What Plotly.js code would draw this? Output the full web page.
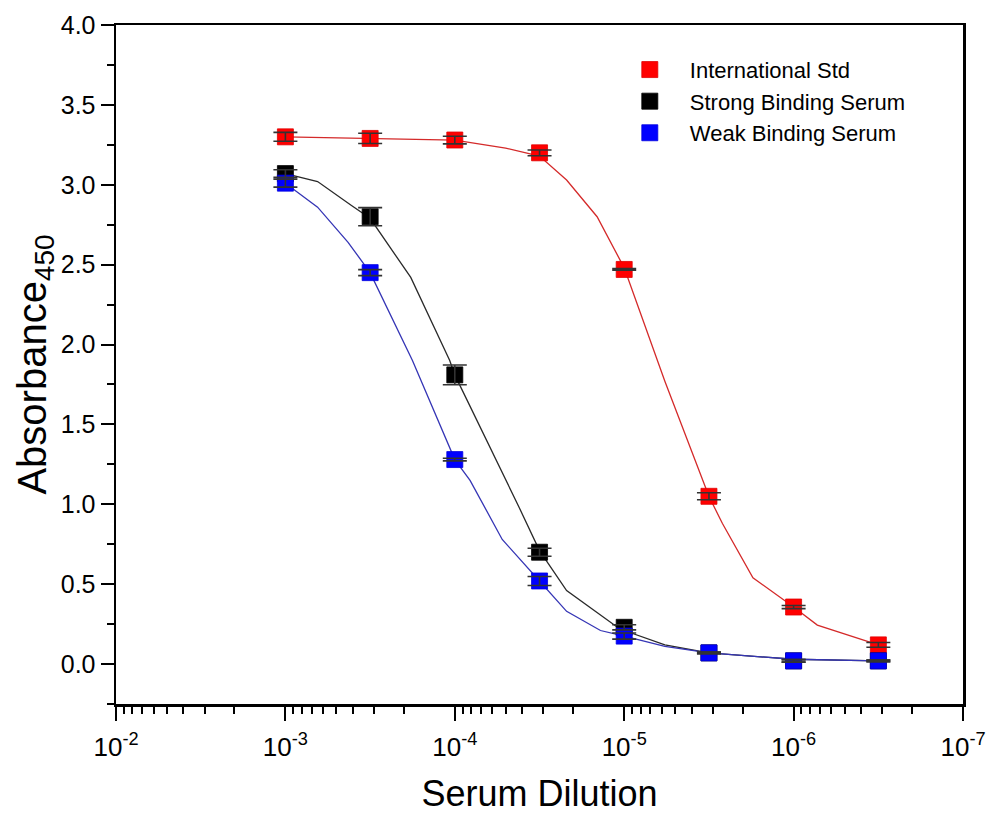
<!DOCTYPE html>
<html>
<head>
<meta charset="utf-8">
<script src="https://cdn.plot.ly/plotly-3.0.1.min.js"></script>
<style>html,body{margin:0;padding:0;background:#fff;}#chart{width:987px;height:814px;}</style>
</head>
<body>
<div id="chart"></div>
<script>
// Serum dilutions (x values)
const dilution = [1e-3, 3.16e-4, 1e-4, 3.16e-5, 1e-5, 3.16e-6, 1e-6, 3.16e-7];

// Measured absorbance and error (half-range)
const stdY      = [3.30, 3.29, 3.28, 3.20, 2.47, 1.05, 0.357, 0.12];
const stdErr    = [0.028, 0.032, 0.024, 0.018, 0.005, 0.022, 0.010, 0.015];
const strongY   = [3.07, 2.80, 1.81, 0.70, 0.23, 0.07, 0.02, 0.02];
const strongErr = [0.024, 0.057, 0.062, 0.025, 0.016, 0.005, 0.008, 0.005];
const weakY     = [3.01, 2.45, 1.28, 0.52, 0.175, 0.07, 0.02, 0.02];
const weakErr   = [0.025, 0.019, 0.008, 0.028, 0.019, 0.005, 0.008, 0.005];

// Fitted curves (x as log10 of dilution)
const stdCurveExp    = [-3.0, -3.5, -4.0, -4.3, -4.5, -4.66, -4.84, -5.0, -5.24, -5.5, -5.58, -5.76, -6.0, -6.14, -6.5];
const stdCurveY      = [3.30, 3.29, 3.28, 3.23, 3.18, 3.03, 2.80, 2.48, 1.77, 1.05, 0.88, 0.54, 0.357, 0.244, 0.12];
const strongCurveExp = [-3.0, -3.19, -3.39, -3.5, -3.74, -3.97, -4.0, -4.19, -4.38, -4.5, -4.66, -4.96, -5.0, -5.24, -5.5, -6.0, -6.5];
const strongCurveY   = [3.07, 3.02, 2.87, 2.79, 2.42, 1.90, 1.81, 1.40, 0.98, 0.71, 0.46, 0.23, 0.21, 0.12, 0.07, 0.03, 0.02];
const weakCurveExp   = [-3.0, -3.19, -3.37, -3.5, -3.75, -4.0, -4.09, -4.28, -4.5, -4.66, -4.86, -5.0, -5.24, -5.5, -6.0, -6.5];
const weakCurveY     = [3.01, 2.86, 2.64, 2.45, 1.90, 1.28, 1.15, 0.78, 0.52, 0.33, 0.21, 0.175, 0.11, 0.07, 0.03, 0.02];

// X tick labels
const xTickVals = [1e-2, 1e-3, 1e-4, 1e-5, 1e-6, 1e-7];
const xTickText = ['10<sup>-2</sup>', '10<sup>-3</sup>', '10<sup>-4</sup>', '10<sup>-5</sup>', '10<sup>-6</sup>', '10<sup>-7</sup>'];

const names = ['International Std', 'Strong Binding Serum', 'Weak Binding Serum'];
const FONT = 'Liberation Sans, Arial, sans-serif';

const series = [
  {name: names[0], y: stdY, err: stdErr, cx: stdCurveExp, cy: stdCurveY, color: '#ff0000', line: '#d42a2a', edge: '#e00000'},
  {name: names[1], y: strongY, err: strongErr, cx: strongCurveExp, cy: strongCurveY, color: '#000000', line: '#2a2a2a', edge: '#000000'},
  {name: names[2], y: weakY, err: weakErr, cx: weakCurveExp, cy: weakCurveY, color: '#0000ff', line: '#3535b5', edge: '#0000e0'}
];

const traces = [];
series.forEach(s => {
  traces.push({
    type: 'scatter', mode: 'lines', x: s.cx.map(e => Math.pow(10, e)), y: s.cy,
    line: {color: s.line, width: 1.3}, showlegend: false, hoverinfo: 'skip'
  });
});
series.forEach((s, i) => {
  traces.push({
    type: 'scatter', mode: 'markers', name: s.name, x: dilution, y: s.y,
    legendgroup: 'g' + i,
    marker: {symbol: 'square', size: 16, color: s.color, line: {color: s.edge, width: 0.8}}
  });
});
series.forEach(s => {
  traces.push({
    type: 'scatter', mode: 'markers', x: dilution, y: s.y, showlegend: false, hoverinfo: 'skip',
    marker: {size: 16, opacity: 0},
    error_y: {type: 'data', array: s.err, visible: true, color: '#333333', thickness: 1.6, width: 12}
  });
});

const layout = {
  width: 987, height: 814,
  paper_bgcolor: '#ffffff', plot_bgcolor: '#ffffff',
  margin: {l: 116, r: 24, t: 25, b: 110},
  font: {family: FONT, color: '#000'},
  xaxis: {
    type: 'log', range: [-2, -7], tickmode: 'array', tickvals: xTickVals, ticktext: xTickText,
    ticklabeloverflow: 'allow', ticklabelstandoff: 4,
    showline: true, linecolor: '#000', linewidth: 2.5, mirror: true,
    ticks: 'outside', ticklen: 14, tickwidth: 2, tickcolor: '#000',
    minor: {ticks: 'outside', ticklen: 7, tickwidth: 2, tickcolor: '#000', dtick: 'D1', showgrid: false},
    showgrid: false, zeroline: false,
    tickfont: {family: FONT, size: 26, color: '#000'},
    title: {text: 'Serum Dilution', font: {family: FONT, size: 36, color: '#000'}, standoff: 27}
  },
  yaxis: {
    range: [-0.25, 4.0], dtick: 0.5, tick0: 0, tickformat: '.1f',
    showline: true, linecolor: '#000', linewidth: 2.5, mirror: true,
    ticks: 'outside', ticklen: 13, tickwidth: 2, tickcolor: '#000',
    minor: {ticks: 'outside', ticklen: 7, tickwidth: 2, tickcolor: '#000', dtick: 0.25, showgrid: false},
    showgrid: false, zeroline: false,
    tickfont: {family: FONT, size: 25, color: '#000'},
    title: {text: 'Absorbance<sub>450</sub>', font: {family: FONT, size: 40, color: '#000'}, standoff: 2}
  },
  legend: {
    x: 0.583, y: 0.965, xanchor: 'left', yanchor: 'top',
    bgcolor: 'rgba(0,0,0,0)', borderwidth: 0,
    font: {family: FONT, size: 22, color: '#000'},
    itemwidth: 70, traceorder: 'grouped', tracegroupgap: 0
  },
  showlegend: true
};

Plotly.newPlot('chart', traces, layout, {displayModeBar: false, staticPlot: true});
</script>
</body>
</html>
